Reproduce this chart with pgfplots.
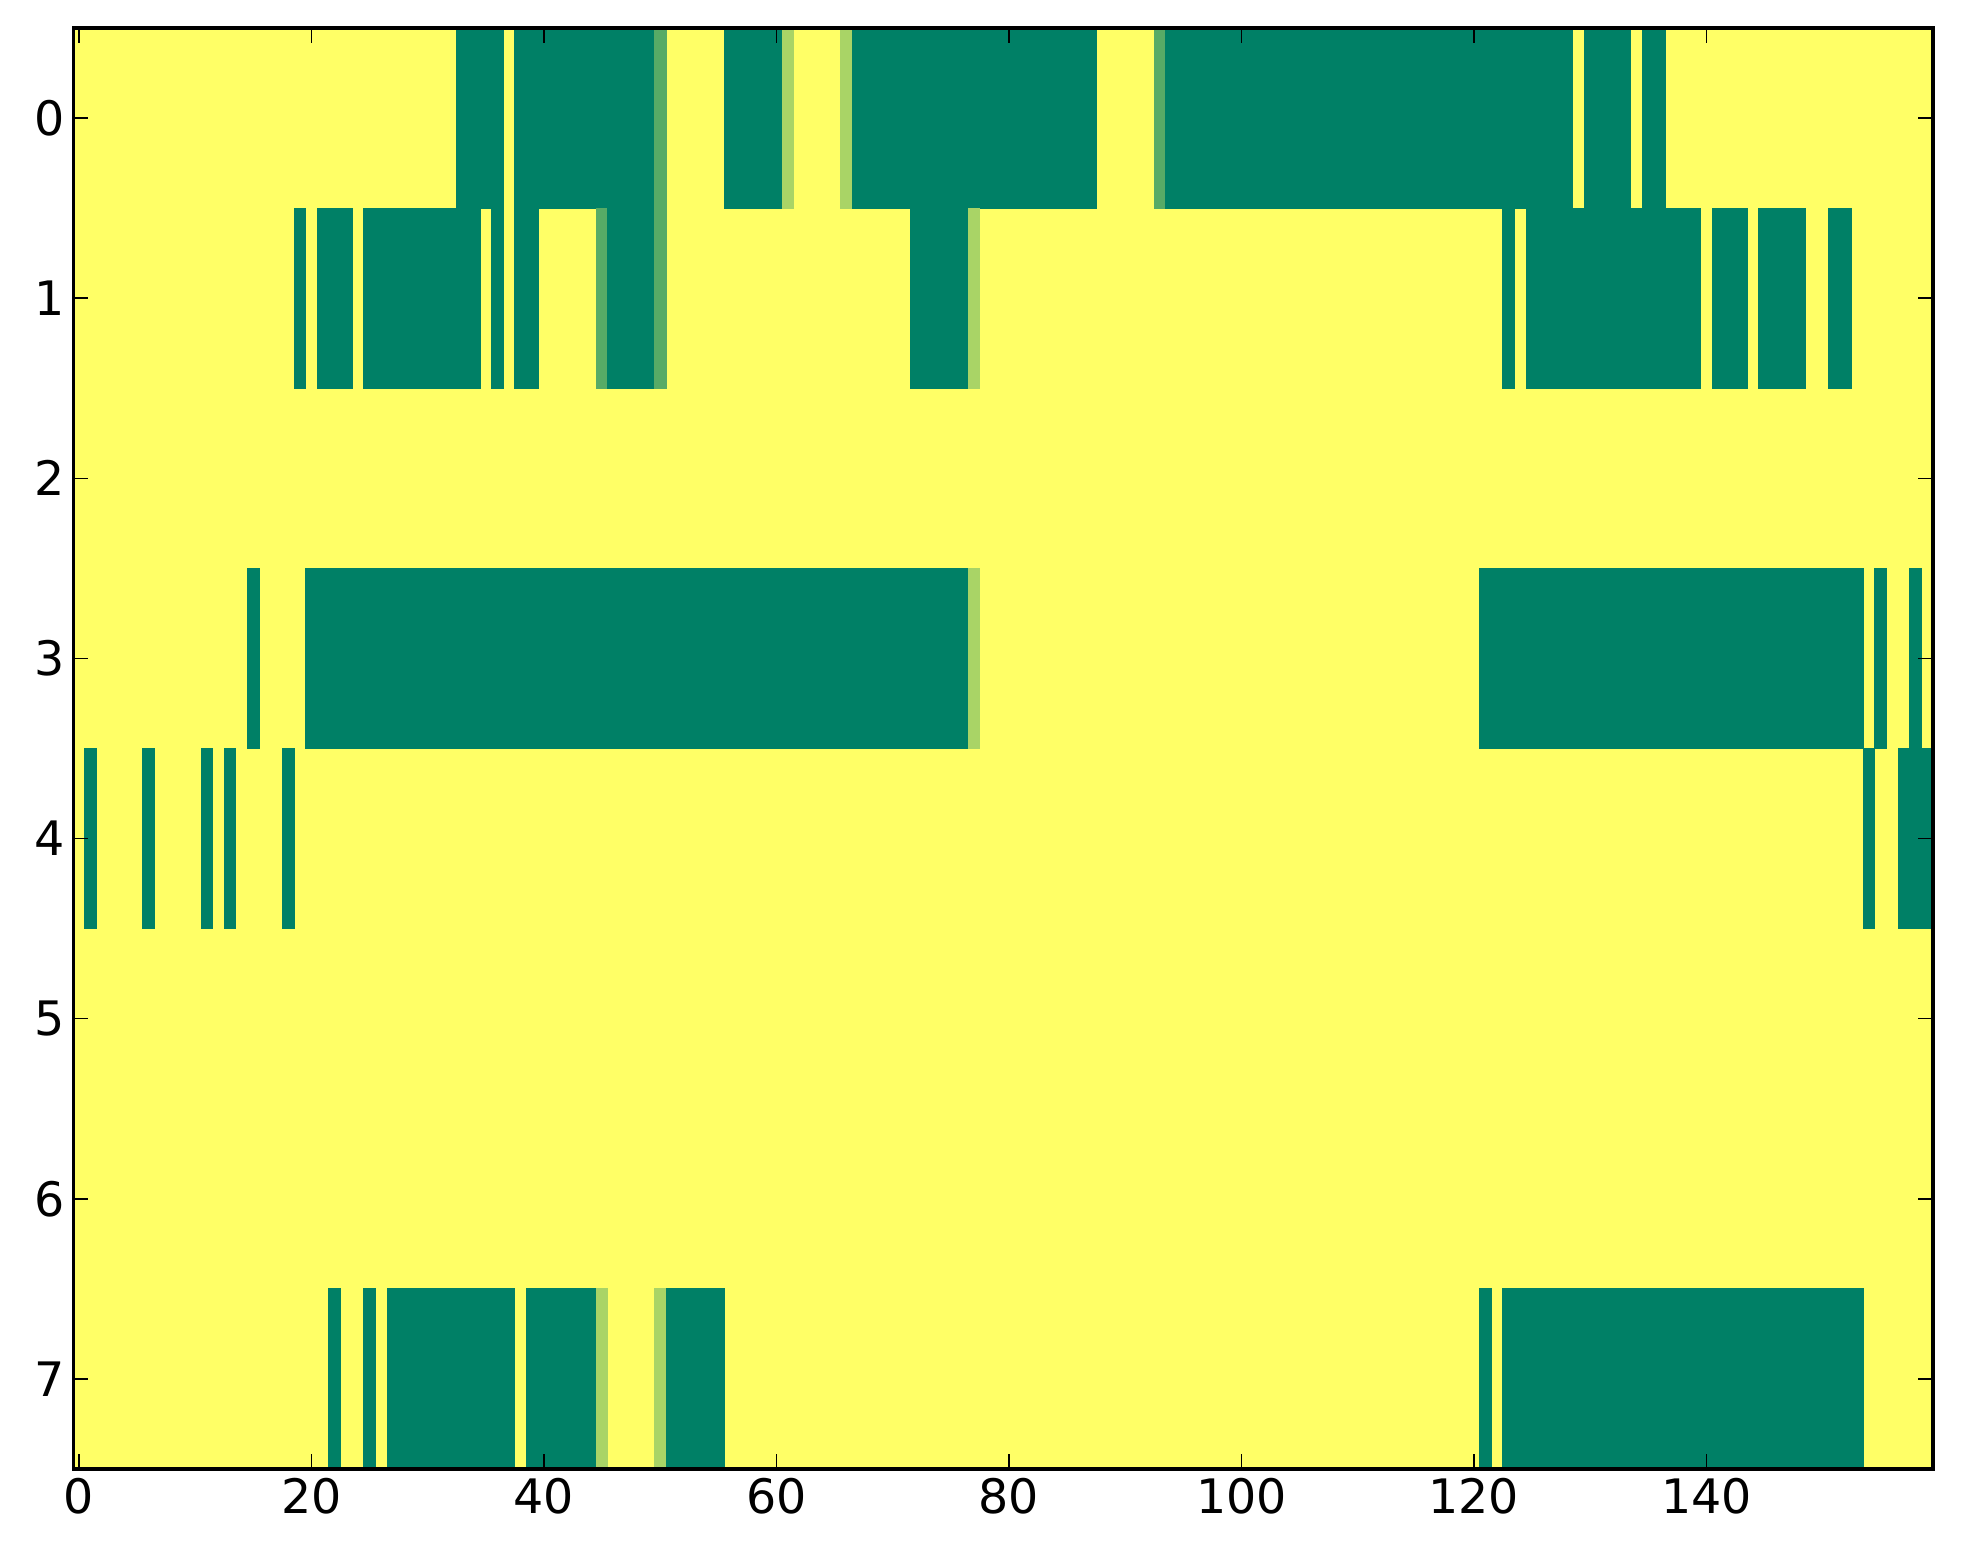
\documentclass[border=0pt]{standalone}
\usepackage{pgfplots}
\pgfplotsset{compat=1.18}
\usepgfplotslibrary{patchplots}
\usepackage{fontspec}
\setmainfont{DejaVu Sans}
\begin{document}
\begin{tikzpicture}
\begin{axis}[
  at={(0,0)}, anchor=south west,
  scale only axis, width=743.9pt, height=576.4pt,
  xmin=-0.5, xmax=159.5, ymin=-0.5, ymax=7.5,
  y dir=reverse,
  xtick={0,20,...,140}, ytick={0,...,7},
  tick pos=both, tick align=inside,
  major tick length=6pt,
  every tick/.style={black, line width=0.6pt},
  axis line style={line width=1.3pt},
  tick label style={font=\fontsize{19}{23}\selectfont},
  /pgf/number format/assume math mode=true,
  colormap={summer}{rgb=(0,0.5,0.4) rgb=(1,1,0.4)},
  point meta min=0, point meta max=1,
  axis on top,
]
\addplot[patch, patch type=rectangle, shader=flat corner, point meta=explicit, line width=0pt] table[x=x, y=y, meta=c] {
x y c
-0.5 -0.5 1
159.5 -0.5 1
159.5 7.5 1
-0.5 7.5 1
32.5 -0.5 0
36.5 -0.5 0
36.5 0.5 0
32.5 0.5 0
37.5 -0.5 0
49.5 -0.5 0
49.5 0.5 0
37.5 0.5 0
49.5 -0.5 0.34
50.5 -0.5 0.34
50.5 0.5 0.34
49.5 0.5 0.34
55.5 -0.5 0
60.5 -0.5 0
60.5 0.5 0
55.5 0.5 0
60.5 -0.5 0.66
61.5 -0.5 0.66
61.5 0.5 0.66
60.5 0.5 0.66
65.5 -0.5 0.66
66.5 -0.5 0.66
66.5 0.5 0.66
65.5 0.5 0.66
66.5 -0.5 0
87.5 -0.5 0
87.5 0.5 0
66.5 0.5 0
92.5 -0.5 0.34
93.5 -0.5 0.34
93.5 0.5 0.34
92.5 0.5 0.34
93.5 -0.5 0
128.5 -0.5 0
128.5 0.5 0
93.5 0.5 0
129.5 -0.5 0
133.5 -0.5 0
133.5 0.5 0
129.5 0.5 0
134.5 -0.5 0
136.5 -0.5 0
136.5 0.5 0
134.5 0.5 0
18.5 0.5 0
19.5 0.5 0
19.5 1.5 0
18.5 1.5 0
20.5 0.5 0
23.5 0.5 0
23.5 1.5 0
20.5 1.5 0
24.5 0.5 0
34.5 0.5 0
34.5 1.5 0
24.5 1.5 0
35.5 0.5 0
36.5 0.5 0
36.5 1.5 0
35.5 1.5 0
37.5 0.5 0
39.5 0.5 0
39.5 1.5 0
37.5 1.5 0
44.5 0.5 0.34
45.5 0.5 0.34
45.5 1.5 0.34
44.5 1.5 0.34
45.5 0.5 0
49.5 0.5 0
49.5 1.5 0
45.5 1.5 0
49.5 0.5 0.34
50.5 0.5 0.34
50.5 1.5 0.34
49.5 1.5 0.34
71.5 0.5 0
76.5 0.5 0
76.5 1.5 0
71.5 1.5 0
76.5 0.5 0.66
77.5 0.5 0.66
77.5 1.5 0.66
76.5 1.5 0.66
122.5 0.5 0
123.5 0.5 0
123.5 1.5 0
122.5 1.5 0
124.5 0.5 0
139.5 0.5 0
139.5 1.5 0
124.5 1.5 0
140.5 0.5 0
143.5 0.5 0
143.5 1.5 0
140.5 1.5 0
144.5 0.5 0
148.5 0.5 0
148.5 1.5 0
144.5 1.5 0
150.5 0.5 0
152.5 0.5 0
152.5 1.5 0
150.5 1.5 0
14.5 2.5 0
15.5 2.5 0
15.5 3.5 0
14.5 3.5 0
19.5 2.5 0
76.5 2.5 0
76.5 3.5 0
19.5 3.5 0
76.5 2.5 0.66
77.5 2.5 0.66
77.5 3.5 0.66
76.5 3.5 0.66
120.5 2.5 0
153.5 2.5 0
153.5 3.5 0
120.5 3.5 0
154.5 2.5 0
155.5 2.5 0
155.5 3.5 0
154.5 3.5 0
157.5 2.5 0
158.5 2.5 0
158.5 3.5 0
157.5 3.5 0
0.5 3.5 0
1.5 3.5 0
1.5 4.5 0
0.5 4.5 0
5.5 3.5 0
6.5 3.5 0
6.5 4.5 0
5.5 4.5 0
10.5 3.5 0
11.5 3.5 0
11.5 4.5 0
10.5 4.5 0
12.5 3.5 0
13.5 3.5 0
13.5 4.5 0
12.5 4.5 0
17.5 3.5 0
18.5 3.5 0
18.5 4.5 0
17.5 4.5 0
153.5 3.5 0
154.5 3.5 0
154.5 4.5 0
153.5 4.5 0
156.5 3.5 0
159.5 3.5 0
159.5 4.5 0
156.5 4.5 0
21.5 6.5 0
22.5 6.5 0
22.5 7.5 0
21.5 7.5 0
24.5 6.5 0
25.5 6.5 0
25.5 7.5 0
24.5 7.5 0
26.5 6.5 0
37.5 6.5 0
37.5 7.5 0
26.5 7.5 0
38.5 6.5 0
44.5 6.5 0
44.5 7.5 0
38.5 7.5 0
44.5 6.5 0.66
45.5 6.5 0.66
45.5 7.5 0.66
44.5 7.5 0.66
49.5 6.5 0.66
50.5 6.5 0.66
50.5 7.5 0.66
49.5 7.5 0.66
50.5 6.5 0
55.5 6.5 0
55.5 7.5 0
50.5 7.5 0
120.5 6.5 0
121.5 6.5 0
121.5 7.5 0
120.5 7.5 0
122.5 6.5 0
153.5 6.5 0
153.5 7.5 0
122.5 7.5 0
};
\end{axis}
\pgfresetboundingbox
\path[use as bounding box] (-29.3pt,-38pt) rectangle (755.9pt,587.6pt);
\end{tikzpicture}
\end{document}
